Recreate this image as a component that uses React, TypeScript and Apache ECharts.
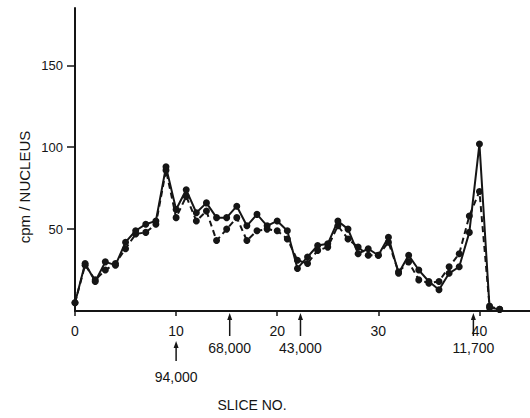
import React, { useEffect, useRef } from "react";
import * as echarts from "echarts";

const slices = [0, 1, 2, 3, 4, 5, 6, 7, 8, 9, 10, 11, 12, 13, 14, 15, 16, 17, 18, 19, 20, 21, 22, 23, 24, 25, 26, 27, 28, 29, 30, 31, 32, 33, 34, 35, 36, 37, 38, 39, 40, 41, 42];
const solidCpm = [5, 29, 18, 30, 28, 42, 49, 53, 55, 88, 62, 74, 60, 66, 57, 57, 64, 52, 59, 52, 55, 49, 26, 33, 40, 41, 55, 50, 35, 38, 34, 45, 23, 34, 25, 18, 13, 23, 27, 48, 102, 2, 1];
const dashedCpm = [5, 28, 19, 25, 29, 38, 47, 48, 53, 86, 57, 70, 55, 61, 43, 50, 57, 43, 49, 50, 49, 44, 31, 29, 37, 39, 52, 44, 39, 34, 34, 42, 24, 30, 19, 17, 18, 27, 35, 58, 73, 3, 1];
const xTicks = [0, 10, 20, 30, 40];
const yTicks = [50, 100, 150];
const markerSlices = [10, 15.3, 22.3, 39.4];
const markerLabels = ["94,000", "68,000", "43,000", "11,700"];
const markerLong = [true, false, false, false];

export default function App() {
  const ref = useRef<HTMLDivElement>(null);
  useEffect(() => {
    const chart = echarts.init(ref.current!, null, { renderer: "svg" });
    const font = "Liberation Sans";
    const ink = "#151515";
    chart.setOption({
      animation: false,
      backgroundColor: "#ffffff",
      grid: { left: 75, top: 8, width: 457, height: 303 },
      xAxis: {
        type: "value",
        min: 0,
        max: 45,
        interval: 10,
        axisLine: { lineStyle: { color: ink, width: 2 } },
        axisTick: { customValues: xTicks, length: 5, lineStyle: { color: ink, width: 1.5 } },
        axisLabel: { customValues: xTicks, color: ink, fontSize: 14, fontFamily: font, margin: 13 },
        splitLine: { show: false },
      },
      yAxis: {
        type: "value",
        min: 0,
        max: 185,
        interval: 50,
        axisLine: { show: true, lineStyle: { color: ink, width: 2 } },
        axisTick: { show: true, customValues: yTicks, length: 8, lineStyle: { color: ink, width: 1.5 } },
        axisLabel: { customValues: yTicks, color: ink, fontSize: 13, fontFamily: font, margin: 12 },
        splitLine: { show: false },
      },
      series: [
        {
          type: "line",
          data: slices.map((s, i) => [s, dashedCpm[i]]),
          symbol: "circle",
          symbolSize: 7,
          itemStyle: { color: ink },
          lineStyle: { color: ink, width: 2, type: [6, 4] },
          z: 2,
        },
        {
          type: "line",
          data: slices.map((s, i) => [s, solidCpm[i]]),
          symbol: "circle",
          symbolSize: 7,
          itemStyle: { color: ink },
          lineStyle: { color: ink, width: 2 },
          z: 3,
        },
      ],
    });

    const y0 = chart.convertToPixel({ yAxisIndex: 0 }, 0) as number;
    const graphics: any[] = [];
    markerSlices.forEach((s, i) => {
      const x = chart.convertToPixel({ xAxisIndex: 0 }, s) as number;
      const top = markerLong[i] ? y0 + 30 : y0 + 2;
      const bottom = markerLong[i] ? y0 + 50 : y0 + 25;
      const labelY = markerLong[i] ? y0 + 66 : y0 + 37;
      graphics.push({
        type: "line",
        shape: { x1: x, y1: top + 5, x2: x, y2: bottom },
        style: { stroke: ink, lineWidth: 1.5 },
      });
      graphics.push({
        type: "polygon",
        shape: { points: [[x, top], [x - 2.5, top + 7], [x + 2.5, top + 7]] },
        style: { fill: ink },
      });
      graphics.push({
        type: "text",
        x: x,
        y: labelY,
        style: {
          text: markerLabels[i],
          fill: ink,
          font: `14px "${font}"`,
          align: "center",
          verticalAlign: "middle",
        },
      });
    });
    graphics.push({
      type: "text",
      x: 252,
      y: 405,
      style: { text: "SLICE NO.", fill: ink, font: `14px "${font}"`, align: "center", verticalAlign: "middle" },
    });
    graphics.push({
      type: "text",
      x: 24,
      y: 187,
      rotation: Math.PI / 2,
      style: { text: "cpm / NUCLEUS", fill: ink, font: `15px "${font}"`, align: "center", verticalAlign: "middle" },
    });
    chart.setOption({ graphic: graphics });

    return () => chart.dispose();
  }, []);
  return (
    <div
      ref={ref}
      style={{ position: "fixed", left: 0, top: 0, width: 530, height: 418 }}
    />
  );
}
